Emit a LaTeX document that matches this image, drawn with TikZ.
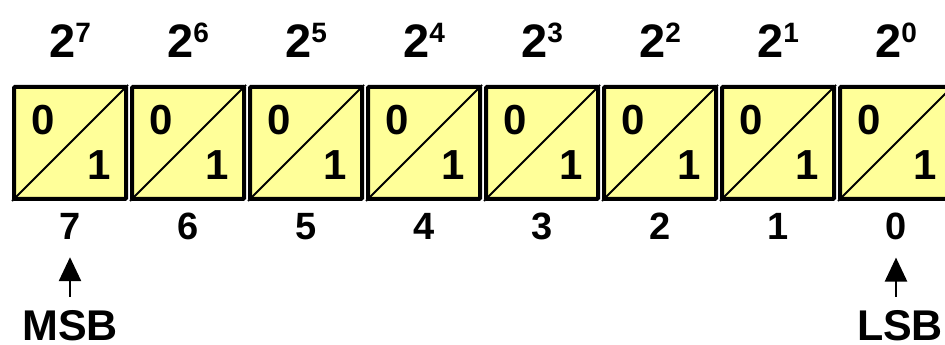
\documentclass[tikz,border=0pt]{standalone}
\usepackage{fontspec}
\setmainfont{Liberation Sans}
\usepackage{tikz}
\usetikzlibrary{arrows.meta,calc}
\definecolor{cellfill}{HTML}{FFFF99}
\tikzset{
  cell/.style    = {draw=black,line width=4pt,fill=cellfill,rounded corners=1pt,
                     minimum width=112pt,minimum height=112pt,inner sep=0pt},
  diag/.style    = {line width=2pt,black},
  bitnum/.style  = {inner sep=0pt,font=\bfseries\fontsize{42}{42}\selectfont},
  weight/.style  = {inner sep=0pt,anchor=base,font=\bfseries\fontsize{47}{47}\selectfont},
  idx/.style     = {inner sep=0pt,anchor=base,font=\bfseries\fontsize{38}{38}\selectfont},
  endlbl/.style  = {inner sep=0pt,anchor=base,font=\bfseries\fontsize{43}{43}\selectfont},
  ptr/.style     = {-{Triangle[length=24pt,width=22pt]},line width=2.5pt},
}
\newcommand{\pw}[1]{2\raisebox{15.5pt}{\fontsize{28}{28}\selectfont #1}}
\newcommand{\bitcell}[3]{%
  \node[cell] (#1) at (#2,202) {};
  \draw[diag] (#1.south west) -- (#1.north east);
  \node[bitnum] (#1-zero) at ($(#1)+(-27,23)$) {0};
  \node[bitnum] (#1-one) at ($(#1)+(29,-22)$) {1};
  \node[weight] (#1-w) at ($(#1)+(0,85)$) {\pw{#3}};
  \node[idx] (#1-i) at ($(#1)+(0,-97)$) {#3};
}

\begin{document}
\begin{tikzpicture}[x=1pt,y=1pt]
  \clip (0,0) rectangle (945,345);

  % the eight bit cells, MSB on the left
  \bitcell{b7}{70}{7}
  \bitcell{b6}{188}{6}
  \bitcell{b5}{306}{5}
  \bitcell{b4}{424}{4}
  \bitcell{b3}{542}{3}
  \bitcell{b2}{660}{2}
  \bitcell{b1}{778}{1}
  \bitcell{b0}{896}{0}

  % MSB / LSB markers
  \node[endlbl] (msb) at (70,4) {MSB};
  \node[endlbl] (lsb) at (900,4) {LSB};
  \draw[ptr,shorten <=14pt,shorten >=17pt] (b7-i.south |- msb.north) -- (b7-i.south);
  \draw[ptr,shorten <=14pt,shorten >=17pt] (b0-i.south |- lsb.north) -- (b0-i.south);
\end{tikzpicture}
\end{document}
